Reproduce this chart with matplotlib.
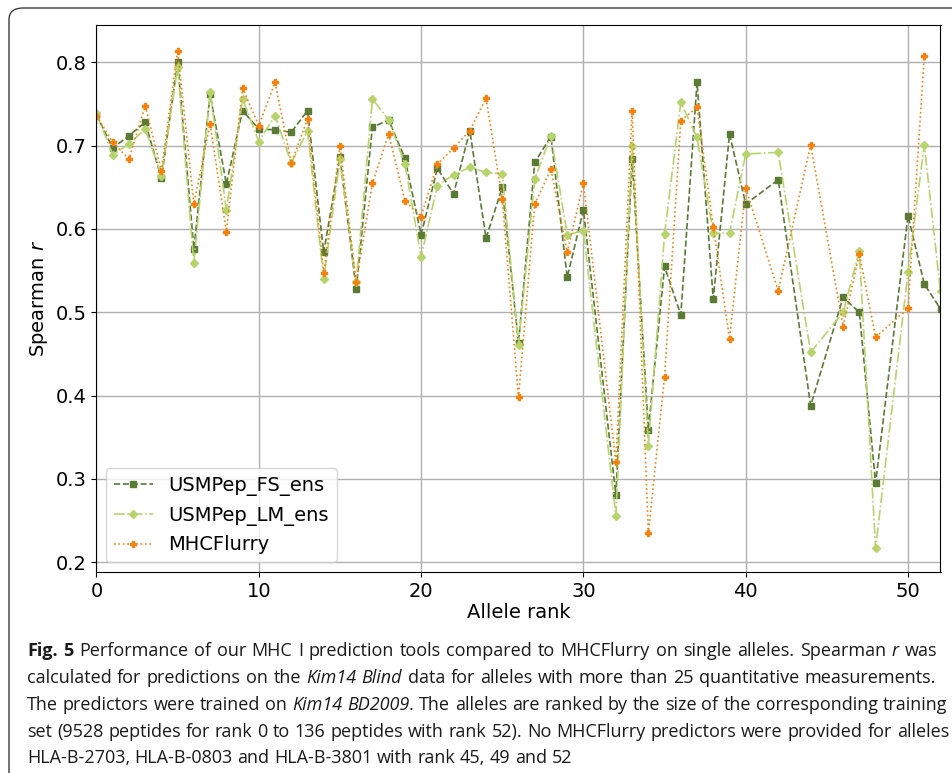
import matplotlib
matplotlib.use("Agg")
import matplotlib.pyplot as plt
from matplotlib.patches import FancyBboxPatch

# allele ranks that have a value (31, 41, 43, 45, 49 are not drawn)
ranks = [0, 1, 2, 3, 4, 5, 6, 7, 8, 9, 10, 11, 12, 13, 14, 15, 16, 17, 18, 19,
         20, 21, 22, 23, 24, 25, 26, 27, 28, 29, 30, 32, 33, 34, 35, 36, 37, 38,
         39, 40, 42, 44, 46, 47, 48, 50, 51, 52]
ranks_mhcflurry = ranks[:-1]

fs_ens = [0.737, 0.697, 0.712, 0.728, 0.661, 0.800, 0.576, 0.762, 0.654, 0.742,
          0.720, 0.719, 0.716, 0.742, 0.572, 0.686, 0.528, 0.722, 0.731, 0.685,
          0.593, 0.673, 0.642, 0.718, 0.589, 0.650, 0.463, 0.680, 0.711, 0.542,
          0.623, 0.281, 0.684, 0.359, 0.555, 0.497, 0.776, 0.516, 0.714, 0.630,
          0.659, 0.388, 0.518, 0.500, 0.295, 0.616, 0.534, 0.504]
lm_ens = [0.739, 0.689, 0.702, 0.720, 0.664, 0.794, 0.559, 0.765, 0.623, 0.756,
          0.705, 0.736, 0.679, 0.718, 0.540, 0.684, 0.536, 0.756, 0.731, 0.678,
          0.567, 0.652, 0.665, 0.674, 0.668, 0.666, 0.461, 0.660, 0.712, 0.593,
          0.598, 0.256, 0.700, 0.340, 0.594, 0.752, 0.710, 0.595, 0.595, 0.690,
          0.692, 0.452, 0.500, 0.574, 0.217, 0.548, 0.701, 0.525]
mhcflurry = [0.736, 0.704, 0.684, 0.748, 0.670, 0.814, 0.630, 0.726, 0.597, 0.769,
             0.724, 0.776, 0.679, 0.732, 0.547, 0.700, 0.536, 0.655, 0.714, 0.634,
             0.615, 0.678, 0.697, 0.718, 0.757, 0.636, 0.398, 0.630, 0.672, 0.572,
             0.655, 0.320, 0.742, 0.235, 0.423, 0.730, 0.746, 0.603, 0.468, 0.649,
             0.526, 0.701, 0.483, 0.570, 0.470, 0.505, 0.808]

caption = [
    [("Fig. 5", "b"), ("  Performance of our MHC I prediction tools compared to MHCFlurry on single alleles. Spearman ", "n"),
     ("r", "i"), (" was", "n")],
    [("calculated for predictions on the ", "n"), ("Kim14 Blind", "i"),
     (" data for alleles with more than 25 quantitative measurements.", "n")],
    [("The predictors were trained on ", "n"), ("Kim14 BD2009", "i"),
     (". The alleles are ranked by the size of the corresponding training", "n")],
    [("set (9528 peptides for rank 0 to 136 peptides with rank 52). No MHCFlurry predictors were provided for alleles", "n")],
    [("HLA-B-2703, HLA-B-0803 and HLA-B-3801 with rank 45, 49 and 52", "n")],
]
caption_right = [937, 936, 947, 949, None]

W, H = 953, 773
fig = plt.figure(figsize=(W / 100, H / 100), dpi=100)

# rounded frame around the figure
frame = FancyBboxPatch((9 / W, -20 / H), 980 / W, (H - 8 + 20) / H,
                       boxstyle="round,pad=0,rounding_size=0.015",
                       transform=fig.transFigure, facecolor="none",
                       edgecolor="#3a3a3a", linewidth=1.0)
fig.patches.append(frame)

ax = fig.add_axes([96.5 / W, 1 - 572 / H, 844 / W, 547 / H])
ax.plot(ranks, fs_ens, "--s", color="#5b7a36", lw=1.2, ms=5, label="USMPep_FS_ens")
ax.plot(ranks, lm_ens, "-.D", color="#b7d36c", lw=1.2, ms=4.5, label="USMPep_LM_ens")
ax.plot(ranks_mhcflurry, mhcflurry, ":P", color="#f5820d", lw=1.2, ms=5, label="MHCFlurry")

ax.set_xlim(0, 52)
ax.set_ylim(0.1884, 0.8448)
ax.set_yticks([0.2, 0.3, 0.4, 0.5, 0.6, 0.7, 0.8])
ax.grid(True, color="#b0b0b0", lw=1)
ax.tick_params(labelsize=14)
ax.set_xlabel("Allele rank", fontsize=14, labelpad=2)
ax.set_ylabel("Spearman $r$", fontsize=14)
ax.legend(loc="lower left", fontsize=14)

# caption, laid out word by word so bold / italic can be mixed
fonts = {"n": dict(family="Open Sans"),
         "b": dict(family="Open Sans", weight="bold"),
         "i": dict(family="Open Sans", style="italic")}
renderer = fig.canvas.get_renderer()


def text_width(s, style, size):
    t = fig.text(0, 0, s, fontsize=size, **fonts[style])
    w = t.get_window_extent(renderer).width
    t.remove()
    return w


def split_words(line):
    words = []
    prev_space = True
    for s, style in line:
        parts = s.split(" ")
        for k, p in enumerate(parts):
            if p == "":
                continue
            glued = k == 0 and not prev_space and len(words) > 0
            words.append([p, style, glued])
        prev_space = s.endswith(" ")
    return words


x0 = 27
# size the caption so the longest line fits its natural width
probe = 12.0
sp = text_width("a a", "n", probe) - text_width("aa", "n", probe)
w4 = split_words(caption[3])
natural = sum(text_width(w[0], w[1], probe) for w in w4) + sp * (len(w4) - 1)
fsize = probe * (caption_right[3] - x0 - 4) / natural
space = text_width("a a", "n", fsize) - text_width("aa", "n", fsize)

baselines = [656, 683, 710, 737, 763]
for line, right, base in zip(caption, caption_right, baselines):
    words = split_words(line)
    widths = [text_width(w[0], w[1], fsize) for w in words]
    ngaps = sum(1 for w in words[1:] if not w[2])
    if right is not None and ngaps:
        gap = (right - x0 - sum(widths)) / ngaps
    else:
        gap = space
    x = x0
    for i, ((s, style, glued), w) in enumerate(zip(words, widths)):
        if i > 0 and not glued:
            x += gap
        fig.text(x / W, 1 - base / H, s, fontsize=fsize, va="baseline",
                 color="#1a1a1a", **fonts[style])
        x += w

fig.savefig("out.png", dpi=100)
